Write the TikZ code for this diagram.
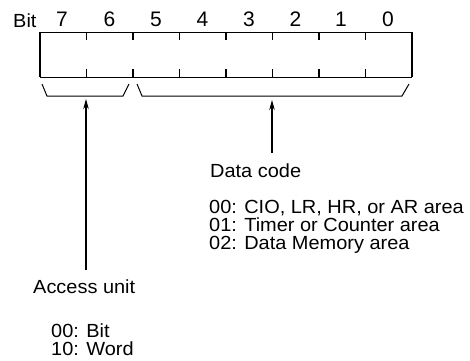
\documentclass[tikz,border=0pt]{standalone}
\usepackage{fontspec}
\setmainfont{Liberation Sans}[FakeStretch=1.05]
\newfontfamily\digitfont{Liberation Sans}
\usetikzlibrary{arrows.meta}
\tikzset{
  lbl/.style={anchor=base west, inner sep=0pt, font=\fontsize{19}{18}\selectfont},
  dig/.style={anchor=base, inner sep=0pt, font=\digitfont\fontsize{21}{22}\selectfont},
  frame/.style={line width=1pt},
  border/.style={line width=2pt},
  bittick/.style={line width=1.4pt},
  brack/.style={line width=1pt},
  ptr/.style={line width=1.1pt, -{Stealth[length=10pt,width=5.5pt]}}
}
\begin{document}
\begin{tikzpicture}[x=1pt,y=-1pt]
\useasboundingbox (0,0) rectangle (470,360);
% register frame
\draw[frame] (40,32) -- (412,32);
\draw[frame] (40,77) -- (412,77);
\draw[border] (40,32) -- (40,77);
\draw[border] (412,32) -- (412,77);
\foreach \x in {86.5,133,179.5,226,272.5,319,365.5}{
  \draw[bittick] (\x,32) -- (\x,40);
  \draw[bittick] (\x,69) -- (\x,77);
}
% labels
\node[lbl] (bit) at (13,27) {Bit};
\foreach \d/\x in {7/62,6/109.5,5/156,4/202.5,3/249,2/295.5,1/341,0/388}{
  \node[dig] (d\d) at (\x,26) {\d};
}
% brackets
\draw[brack] (42,84) -- (47,96) -- (123,96) -- (129,84);
\draw[brack] (137,84) -- (142,96) -- (402,96) -- (409,84);
% pointers
\coordinate (aTop) at (86,99);
\coordinate (aBot) at (86,270);
\coordinate (dTop) at (272,100);
\coordinate (dBot) at (272,153);
\draw[ptr] (aBot) -- (aTop);
\draw[ptr] (dBot) -- (dTop);
% data code text
\node[lbl] (dc) at (210,177) {Data code};
\node[lbl] (dc0) at (209,213) {00: CIO, LR, HR, or AR area};
\node[lbl] (dc1) at (209,231) {01: Timer or Counter area};
\node[lbl] (dc2) at (209,249) {02: Data Memory area};
% access unit text
\node[lbl] (au) at (33,293) {Access unit};
\node[lbl] (au0) at (51,337) {00: Bit};
\node[lbl] (au1) at (51,355) {10: Word};
\end{tikzpicture}
\end{document}
